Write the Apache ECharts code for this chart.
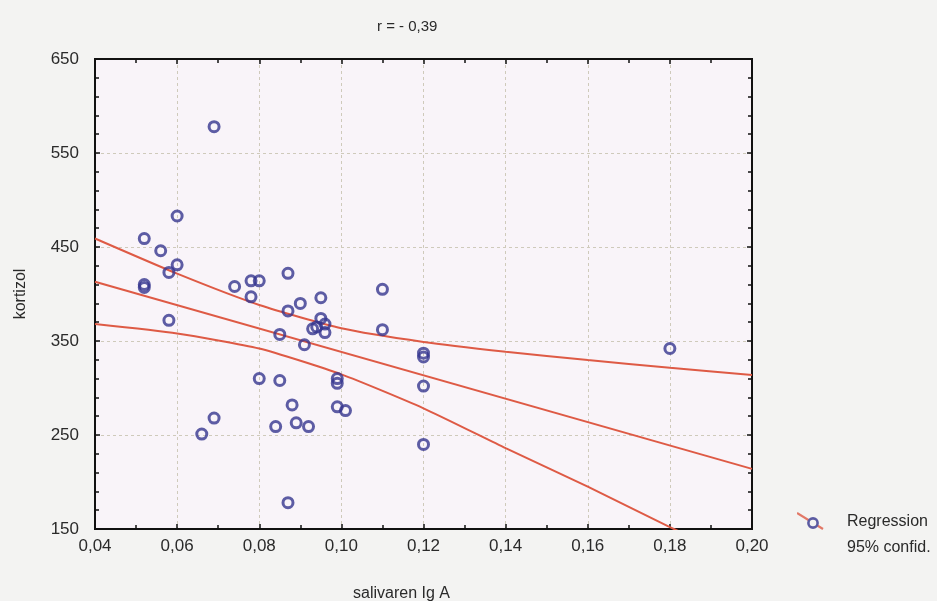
<!DOCTYPE html>
<html>
<head>
<meta charset="utf-8">
<script src="https://cdn.jsdelivr.net/npm/echarts@6/dist/echarts.min.js"></script>
<style>
html,body{margin:0;padding:0;background:#f3f3f2;}
#c{width:937px;height:601px;}
</style>
</head>
<body>
<div id="c"></div>
<script>
// ---- data ----
const pointX = [0.069, 0.060, 0.052, 0.056, 0.060, 0.058, 0.052, 0.052, 0.058, 0.074,
                0.078, 0.080, 0.078, 0.087, 0.087, 0.090, 0.085, 0.095, 0.110, 0.095,
                0.096, 0.093, 0.094, 0.096, 0.110, 0.091, 0.080, 0.085, 0.099, 0.099,
                0.088, 0.099, 0.101, 0.069, 0.066, 0.084, 0.089, 0.092, 0.087, 0.120,
                0.120, 0.120, 0.120, 0.180];
const pointY = [578, 483, 459, 446, 431, 423, 410, 407, 372, 408,
                414, 414, 397, 422, 382, 390, 357, 396, 405, 374,
                368, 363, 365, 359, 362, 346, 310, 308, 310, 305,
                282, 280, 276, 268, 251, 259, 263, 259, 178, 337,
                333, 302, 240, 342];

const bandX     = [0.04, 0.06, 0.08, 0.10, 0.12, 0.14, 0.16, 0.18, 0.20];
const upperBand = [459, 421.6, 388.3, 363.5, 349, 338.6, 329.7, 321.6, 313.8];
const lowerBand = [368, 358, 342, 314.5, 278.4, 236, 195, 152, 112];

const regX = [0.04, 0.20];
const regY = [413, 214];

const xTickLabels = ['0,04', '0,06', '0,08', '0,10', '0,12', '0,14', '0,16', '0,18', '0,20'];
const xTickValues = [0.04, 0.06, 0.08, 0.10, 0.12, 0.14, 0.16, 0.18, 0.20];
const yTickLabels = ['150', '250', '350', '450', '550', '650'];

const titleText = 'r = - 0,39';
const xName = 'salivaren Ig A';
const yName = 'kortizol';
const legendNames = ['Regression', '95% confid.'];

// ---- chart ----
const FONT = '"Liberation Sans", Arial, sans-serif';
const TXT = '#2a2a2a';
const RED = '#de5a45';
const BLUE = '#36368f';
const BG = '#f3f3f2';

function zip(a, b) { return a.map((v, i) => [v, b[i]]); }

function xLabel(v) {
  for (let i = 0; i < xTickValues.length; i++) {
    if (Math.abs(xTickValues[i] - v) < 1e-9) return xTickLabels[i];
  }
  return '';
}
function yLabel(v) {
  const s = String(Math.round(v));
  return yTickLabels.indexOf(s) >= 0 ? s : '';
}

const svgIcon = "<svg xmlns='http://www.w3.org/2000/svg' width='45' height='20' viewBox='0 0 45 20'>" +
  "<line x1='0' y1='1' x2='26' y2='17' stroke='" + RED + "' stroke-width='2.2'/>" +
  "<circle cx='16' cy='11' r='4.6' fill='" + BG + "' stroke='" + BLUE + "' stroke-width='2.6'/></svg>";
const iconUrl = 'image://data:image/svg+xml;charset=utf-8,' + encodeURIComponent(svgIcon);

const gridLine = { show: true, lineStyle: { color: '#cfcabb', type: [3, 3], width: 1 } };

const baseX = {
  type: 'value', min: 0.04, max: 0.20, interval: 0.02,
  axisLine: { show: true, onZero: false, lineStyle: { color: '#111', width: 2 } },
  axisTick: { show: true, inside: true, length: 5, lineStyle: { color: '#111', width: 1.5 } },
  minorTick: { show: true, splitNumber: 2, length: 4, lineStyle: { color: '#111', width: 1.5 } }
};
const baseY = {
  type: 'value', min: 150, max: 650, interval: 100,
  axisLine: { show: true, onZero: false, lineStyle: { color: '#111', width: 2 } },
  axisTick: { show: true, inside: true, length: 5, lineStyle: { color: '#111', width: 1.5 } },
  minorTick: { show: true, splitNumber: 5, length: 4, lineStyle: { color: '#111', width: 1.5 } }
};

const chart = echarts.init(document.getElementById('c'), null, { renderer: 'canvas' });
chart.setOption({
  backgroundColor: BG,
  animation: false,
  textStyle: { fontFamily: FONT },
  title: [
    { text: titleText, left: 372, top: 14, textStyle: { fontSize: 15, fontWeight: 'normal', color: TXT, fontFamily: FONT } },
    { text: xName, left: 348, top: 581, textStyle: { fontSize: 16, fontWeight: 'normal', color: TXT, fontFamily: FONT } },
    { text: legendNames[1], left: 842, top: 535, textStyle: { fontSize: 16, fontWeight: 'normal', color: TXT, fontFamily: FONT } }
  ],
  legend: {
    left: 792, top: 507, itemWidth: 45, itemHeight: 20, selectedMode: false,
    data: [{ name: legendNames[0], icon: iconUrl }],
    textStyle: { fontSize: 16, color: TXT, fontFamily: FONT }
  },
  grid: {
    left: 95, right: 185, top: 59, bottom: 72,
    show: true, backgroundColor: '#f9f4f9', borderColor: '#111', borderWidth: 2
  },
  xAxis: [
    Object.assign({}, baseX, {
      position: 'bottom',
      axisLabel: { show: true, fontSize: 17, color: TXT, margin: 9, fontFamily: FONT, formatter: xLabel },
      splitLine: gridLine
    }),
    Object.assign({}, baseX, {
      position: 'top',
      axisLabel: { show: false },
      splitLine: { show: false }
    })
  ],
  yAxis: [
    Object.assign({}, baseY, {
      position: 'left',
      name: yName, nameLocation: 'middle', nameGap: 66, nameRotate: 90,
      nameTextStyle: { fontSize: 16, color: TXT, fontFamily: FONT },
      axisLabel: { show: true, fontSize: 17, color: TXT, margin: 16, fontFamily: FONT, formatter: yLabel },
      splitLine: gridLine
    }),
    Object.assign({}, baseY, {
      position: 'right',
      axisLabel: { show: false },
      splitLine: { show: false }
    })
  ],
  series: [
    {
      name: 'upper', type: 'line', data: zip(bandX, upperBand), smooth: 0.2,
      symbol: 'none', clip: true, lineStyle: { color: RED, width: 2 }, z: 3, silent: true
    },
    {
      name: 'fit', type: 'line', data: zip(regX, regY),
      symbol: 'none', clip: true, lineStyle: { color: RED, width: 2 }, z: 3, silent: true
    },
    {
      name: 'lower', type: 'line', data: zip(bandX, lowerBand), smooth: 0.2,
      symbol: 'none', clip: true, lineStyle: { color: RED, width: 2 }, z: 3, silent: true
    },
    {
      name: legendNames[0], type: 'scatter', data: zip(pointX, pointY),
      symbol: 'circle', symbolSize: 10,
      itemStyle: { color: 'rgba(0,0,0,0)', borderColor: BLUE, borderWidth: 3 },
      z: 5
    }
  ]
});
</script>
</body>
</html>
